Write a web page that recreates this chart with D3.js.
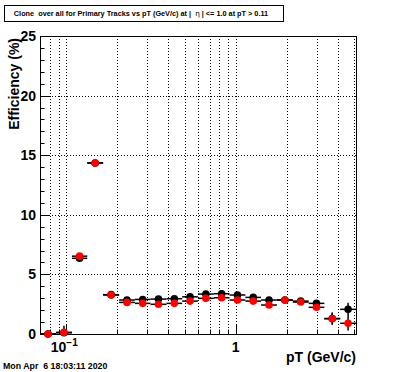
<!DOCTYPE html>
<meta charset="utf-8">
<style>
  body { margin: 0; background: #fff; }
  text { font-family: "Liberation Sans", Arial, sans-serif; font-weight: bold; }
</style>
<script src="https://d3js.org/d3.v7.min.js"></script>
<div id="my_dataviz"></div>
<script>
    // bin edges in pT (GeV/c), log-spaced
    var binEdges = [0.070, 0.087, 0.108, 0.133, 0.165, 0.205, 0.254, 0.314, 0.390, 0.483, 0.598,
                    0.742, 0.919, 1.14, 1.41, 1.75, 2.17, 2.69, 3.33, 4.13, 5.12];

    // black series
    var blackVals = [0.0, 0.1, 6.35, 14.35, 3.3, 2.85, 2.9, 2.93, 2.96, 3.12,
                     3.35, 3.38, 3.27, 3.07, 2.85, 2.85, 2.76, 2.57, 1.3, 2.07];
    var blackErr  = [0.0, 0.6, 0.1, 0.1, 0.1, 0.1, 0.1, 0.1, 0.1, 0.1,
                     0.1, 0.1, 0.1, 0.1, 0.1, 0.1, 0.15, 0.2, 0.5, 0.55];
    // red series
    var redVals = [0.0, 0.14, 6.53, 14.35, 3.27, 2.65, 2.57, 2.49, 2.57, 2.76,
                   2.99, 3.04, 2.85, 2.76, 2.43, 2.85, 2.68, 2.24, 1.28, 0.9];
    var redErr  = [0.0, 0.1, 0.1, 0.1, 0.1, 0.1, 0.1, 0.1, 0.1, 0.1,
                   0.1, 0.1, 0.1, 0.1, 0.1, 0.1, 0.15, 0.2, 0.5, 0.6];

    var yTicks = [0, 5, 10, 15, 20, 25];
    var xGrid = [0.08, 0.09, 0.1, 0.2, 0.3, 0.4, 0.5, 0.6, 0.7, 0.8, 0.9, 1, 2, 3, 4, 5];

    var W = 396, H = 372;
    var padL = 40, padR = 356, padT = 36, padB = 334;

    var svg = d3.select("#my_dataviz")
      .append("svg")
        .attr("width", W)
        .attr("height", H);

    svg.append("rect").attr("width", W).attr("height", H).attr("fill", "#fff");

    var x = d3.scaleLog()
      .domain([binEdges[0], binEdges[binEdges.length - 1]])
      .range([padL, padR]);
    var y = d3.scaleLinear()
      .domain([0, 25])
      .range([padB, padT]);

    // dotted grid
    svg.append("g").selectAll("line")
      .data(xGrid)
      .enter().append("line")
        .attr("x1", function(d){ return Math.round(x(d)) + 0.5 })
        .attr("x2", function(d){ return Math.round(x(d)) + 0.5 })
        .attr("y1", padT).attr("y2", padB)
        .attr("stroke", "#000").attr("stroke-dasharray", "1,2");
    svg.append("g").selectAll("line")
      .data(yTicks.slice(1))
      .enter().append("line")
        .attr("x1", padL).attr("x2", padR)
        .attr("y1", function(d){ return Math.round(y(d)) + 0.5 })
        .attr("y2", function(d){ return Math.round(y(d)) + 0.5 })
        .attr("stroke", "#000").attr("stroke-dasharray", "1,2");

    // frame
    svg.append("rect")
      .attr("x", padL + 0.5).attr("y", padT + 0.5)
      .attr("width", padR - padL).attr("height", padB - padT)
      .attr("fill", "none").attr("stroke", "#000");

    // y axis ticks (inside) and labels
    var yAxis = svg.append("g");
    d3.range(0, 26, 1).forEach(function(v) {
      var major = v % 5 === 0;
      yAxis.append("line")
        .attr("x1", padL).attr("x2", padL + (major ? 9 : 4.5))
        .attr("y1", Math.round(y(v)) + 0.5).attr("y2", Math.round(y(v)) + 0.5)
        .attr("stroke", "#000");
    });
    yAxis.selectAll("text")
      .data(yTicks)
      .enter().append("text")
        .attr("x", 36)
        .attr("y", function(d){ return y(d) + 5 })
        .attr("text-anchor", "end")
        .attr("font-size", 14)
        .text(function(d){ return d });

    // x axis ticks (log)
    var xAxis = svg.append("g");
    xGrid.forEach(function(v) {
      var major = (v === 0.1 || v === 1);
      xAxis.append("line")
        .attr("x1", Math.round(x(v)) + 0.5).attr("x2", Math.round(x(v)) + 0.5)
        .attr("y1", padB).attr("y2", padB - (major ? 9 : 4.5))
        .attr("stroke", "#000");
    });
    var lab = xAxis.append("text")
      .attr("x", x(0.1) - 2).attr("y", 352)
      .attr("text-anchor", "middle")
      .attr("font-size", 14);
    lab.append("tspan").text("10");
    lab.append("tspan").attr("dy", -6).attr("font-size", 10).text("\u22121");
    xAxis.append("text")
      .attr("x", x(1)).attr("y", 352)
      .attr("text-anchor", "middle")
      .attr("font-size", 14)
      .text("1");

    // axis titles
    svg.append("text")
      .attr("x", padR).attr("y", 362)
      .attr("text-anchor", "end")
      .attr("font-size", 14)
      .text("pT (GeV/c)");
    svg.append("text")
      .attr("transform", "translate(19," + (padT + 2) + ") rotate(-90)")
      .attr("text-anchor", "end")
      .attr("font-size", 14)
      .text("Efficiency (%)");

    // series: error bars then markers
    function drawSeries(vals, errs, color) {
      var g = svg.append("g");
      vals.forEach(function(v, i) {
        var lo = binEdges[i], hi = binEdges[i + 1];
        var cx = x(Math.sqrt(lo * hi));
        g.append("line")
          .attr("x1", x(lo)).attr("x2", x(hi))
          .attr("y1", y(v)).attr("y2", y(v))
          .attr("stroke", "#000").attr("stroke-width", 1.5);
        if (errs[i] > 0) {
          g.append("line")
            .attr("x1", cx).attr("x2", cx)
            .attr("y1", y(Math.max(0, v - errs[i]))).attr("y2", y(v + errs[i]))
            .attr("stroke", "#000").attr("stroke-width", 1.5);
        }
        g.append("circle")
          .attr("cx", cx).attr("cy", y(v))
          .attr("r", 3.8)
          .attr("fill", color);
      });
    }
    drawSeries(blackVals, blackErr, "#000");
    drawSeries(redVals, redErr, "#ff0000");

    // title box
    svg.append("rect")
      .attr("x", 4.5).attr("y", 5.5)
      .attr("width", 279).attr("height", 16)
      .attr("fill", "#fff").attr("stroke", "#000");
    var t = svg.append("text")
      .attr("x", 141).attr("y", 16)
      .attr("text-anchor", "middle")
      .attr("font-size", 7.3)
      .attr("xml:space", "preserve")
      .style("white-space", "pre");
    t.append("tspan").text("Clone  over all for Primary Tracks vs pT (GeV/c) at |  ");
    t.append("tspan").attr("font-weight", "normal").attr("font-family", "DejaVu Sans").text("\u03b7");
    t.append("tspan").text(" | <= 1.0 at pT > 0.11");

    // date stamp
    svg.append("text")
      .attr("x", 3).attr("y", 369)
      .attr("font-size", 8.8)
      .attr("xml:space", "preserve")
      .style("white-space", "pre")
      .text("Mon Apr  6 18:03:11 2020");
</script>
